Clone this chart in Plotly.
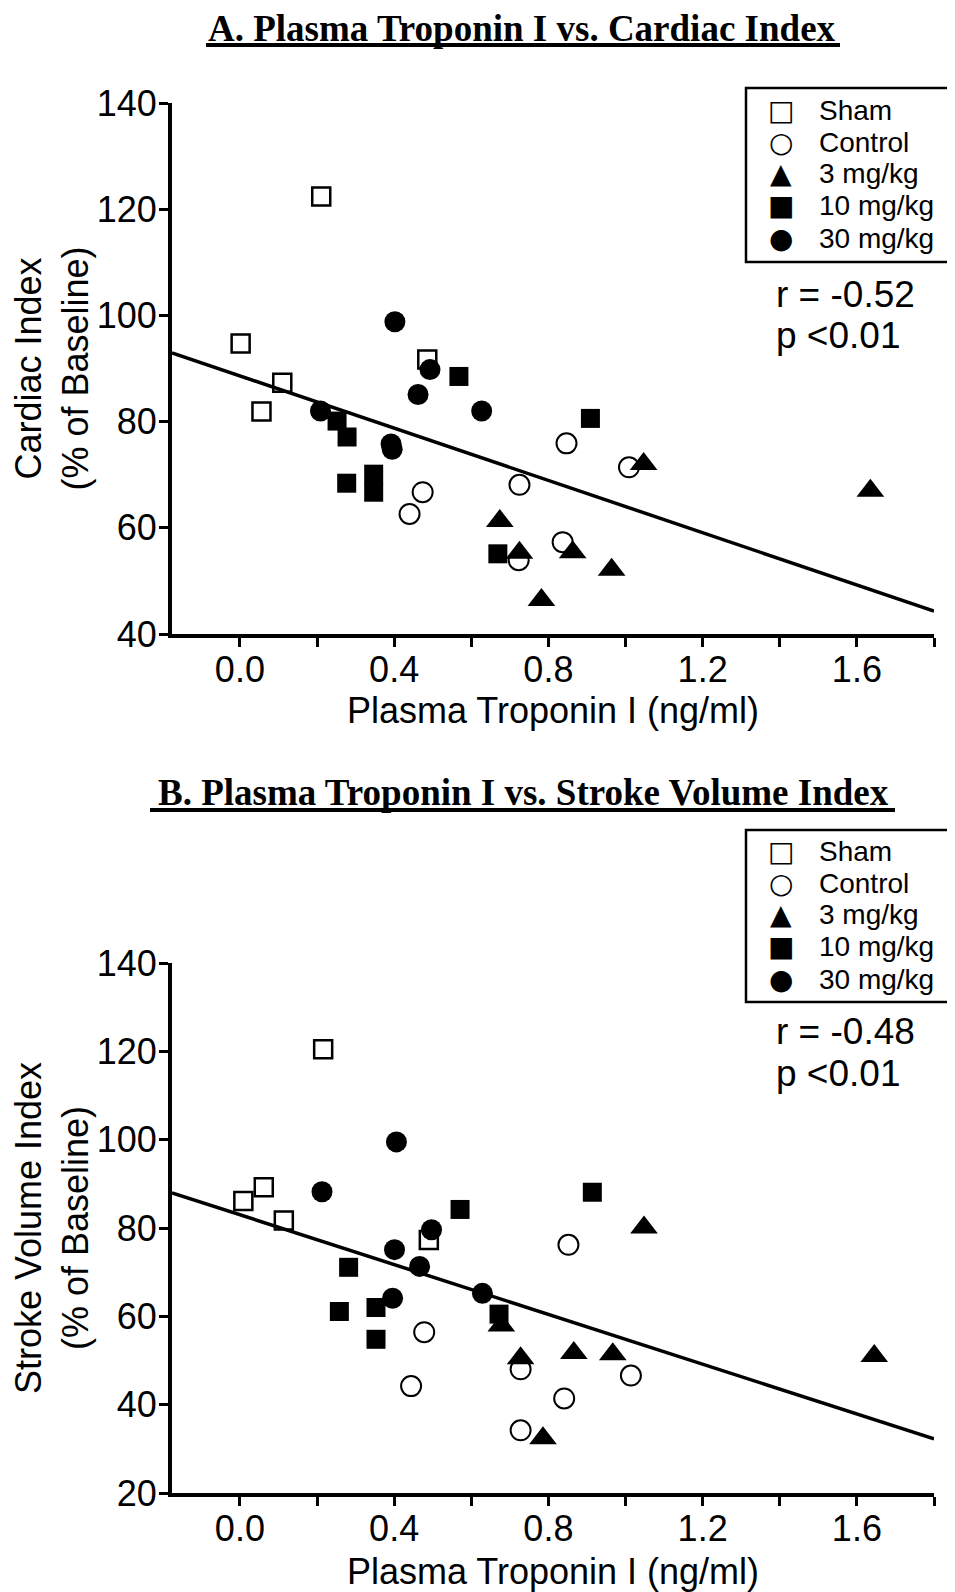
import plotly.graph_objects as go

# ---------------- Panel A: Plasma Troponin I vs. Cardiac Index ----------------
sham_a_x = [0.002, 0.056, 0.110, 0.211, 0.486]
sham_a_y = [94.7, 81.9, 87.3, 122.4, 91.7]
ctrl_a_x = [0.440, 0.474, 0.723, 0.725, 0.837, 0.847, 1.009]
ctrl_a_y = [62.6, 66.7, 53.9, 68.1, 57.3, 75.9, 71.4]
d3_a_x = [0.674, 0.725, 0.782, 0.863, 0.964, 1.047, 1.635]
d3_a_y = [61.3, 55.3, 46.4, 55.4, 52.1, 72.0, 67.0]
d10_a_x = [0.252, 0.277, 0.278, 0.347, 0.347, 0.568, 0.669, 0.909]
d10_a_y = [80.1, 68.4, 77.1, 70.1, 66.7, 88.5, 55.1, 80.6]
d30_a_x = [0.209, 0.392, 0.395, 0.402, 0.462, 0.493, 0.627]
d30_a_y = [82.0, 75.8, 74.8, 98.8, 85.1, 89.8, 82.0]
fit_a_intercept = 88.6
fit_a_slope = -24.6
stats_a = ["r = -0.52", "p <0.01"]

# ---------------- Panel B: Plasma Troponin I vs. Stroke Volume Index ----------------
sham_b_x = [0.009, 0.062, 0.114, 0.216, 0.490]
sham_b_y = [86.1, 89.2, 81.7, 120.5, 77.3]
ctrl_b_x = [0.444, 0.478, 0.728, 0.728, 0.841, 0.852, 1.014]
ctrl_b_y = [44.2, 56.4, 34.2, 48.0, 41.4, 76.2, 46.6]
d3_b_x = [0.678, 0.728, 0.786, 0.866, 0.967, 1.048, 1.645]
d3_b_y = [57.9, 50.5, 32.4, 51.7, 51.4, 80.1, 51.0]
d10_b_x = [0.258, 0.282, 0.353, 0.353, 0.571, 0.672, 0.914]
d10_b_y = [61.1, 71.1, 62.0, 54.8, 84.2, 60.5, 88.1]
d30_b_x = [0.213, 0.396, 0.401, 0.406, 0.466, 0.497, 0.629]
d30_b_y = [88.2, 64.1, 75.1, 99.5, 71.3, 79.6, 65.2]
fit_b_intercept = 83.0
fit_b_slope = -28.2
stats_b = ["r = -0.48", "p <0.01"]

group_names = ["Sham", "Control", "3 mg/kg", "10 mg/kg", "30 mg/kg"]
legend_glyphs = ["\u25A1", "\u25CB", "\u25B2", "\u25A0", "\u25CF"]
x_range = [-0.176, 1.8]
x_tickvals = [0.0, 0.2, 0.4, 0.6, 0.8, 1.0, 1.2, 1.4, 1.6, 1.8]
x_ticktext = ["0.0", "", "0.4", "", "0.8", "", "1.2", "", "1.6", ""]

W, H = 955, 1592
OFF = 8  # the page body adds an 8 px margin; positions below are screen pixels
SANS = "Liberation Sans, Arial, sans-serif"
SERIF = "Liberation Serif, Times New Roman, serif"

styles = [
    dict(symbol="square-open", size=18, color="black", line=dict(width=2.5, color="black")),
    dict(symbol="circle-open", size=20, color="black", line=dict(width=2, color="black")),
    dict(symbol="triangle-up", size=24, color="black"),
    dict(symbol="square", size=19, color="black"),
    dict(symbol="circle", size=21, color="black"),
]

fig = go.Figure()


def add_panel(xs, ys, intercept, slope, xaxis, yaxis):
    fx = list(x_range)
    fy = [intercept + slope * v for v in fx]
    fig.add_trace(go.Scatter(x=fx, y=fy, mode="lines", line=dict(color="black", width=3.5),
                             showlegend=False, hoverinfo="skip", xaxis=xaxis, yaxis=yaxis))
    for name, gx, gy, st in zip(group_names, xs, ys, styles):
        fig.add_trace(go.Scatter(x=gx, y=gy, mode="markers", name=name, marker=st,
                                 xaxis=xaxis, yaxis=yaxis, showlegend=False))


add_panel([sham_a_x, ctrl_a_x, d3_a_x, d10_a_x, d30_a_x],
          [sham_a_y, ctrl_a_y, d3_a_y, d10_a_y, d30_a_y],
          fit_a_intercept, fit_a_slope, "x", "y")
add_panel([sham_b_x, ctrl_b_x, d3_b_x, d10_b_x, d30_b_x],
          [sham_b_y, ctrl_b_y, d3_b_y, d10_b_y, d30_b_y],
          fit_b_intercept, fit_b_slope, "x2", "y2")

axis_style = dict(showline=True, linecolor="black", linewidth=4, ticks="outside", ticklen=9,
                  tickwidth=3, tickcolor="black", showgrid=False, zeroline=False, automargin=False,
                  tickfont=dict(size=36, family=SANS, color="black"))


def px_x(p):
    return (p - OFF) / W


def py(p):
    return 1 - (p - OFF) / H


x_dom = [px_x(172), px_x(934)]

fig.update_layout(
    width=W, height=H, margin=dict(l=0, r=0, t=0, b=0, pad=0),
    plot_bgcolor="white", paper_bgcolor="white", showlegend=False,
    font=dict(family=SANS, color="black", size=36),
    xaxis=dict(domain=x_dom, range=x_range, tickvals=x_tickvals, ticktext=x_ticktext, anchor="y",
               ticklabelstandoff=-8,
               title=dict(text="Plasma Troponin I (ng/ml)", font=dict(size=36), standoff=4), **axis_style),
    yaxis=dict(domain=[py(634), py(103)], range=[40, 140], dtick=20, tick0=40, anchor="x",
               ticklabelstandoff=-5,
               title=dict(text="Cardiac Index<br>(% of Baseline)", font=dict(size=36), standoff=6), **axis_style),
    xaxis2=dict(domain=x_dom, range=x_range, tickvals=x_tickvals, ticktext=x_ticktext, anchor="y2",
                ticklabelstandoff=-8,
                title=dict(text="Plasma Troponin I (ng/ml)", font=dict(size=36), standoff=12), **axis_style),
    yaxis2=dict(domain=[py(1493), py(963)], range=[20, 140], dtick=20, tick0=20, anchor="x2",
                ticklabelstandoff=-5,
                title=dict(text="Stroke Volume Index<br>(% of Baseline)", font=dict(size=36), standoff=6),
                **axis_style),
)

# titles with underline
titles = [("A. Plasma Troponin I vs. Cardiac Index", 522, 28, 206, 840, 45),
          ("B. Plasma Troponin I vs. Stroke Volume Index", 523, 792, 150, 895, 810)]
for text, cx, cy, ux0, ux1, uy in titles:
    fig.add_annotation(text="<b>" + text + "</b>", x=px_x(cx), y=py(cy), xref="paper", yref="paper",
                       showarrow=False, xanchor="center", yanchor="middle",
                       font=dict(family=SERIF, size=37, color="black"))
    fig.add_shape(type="line", xref="paper", yref="paper", x0=px_x(ux0), x1=px_x(ux1), y0=py(uy), y1=py(uy),
                  line=dict(color="black", width=4))

# boxed keys for each panel
legend_boxes = [(88, 262, [111, 142, 173, 205, 239]), (830, 1002, [851, 883, 914, 946, 979])]
for top, bottom, rows in legend_boxes:
    fig.add_shape(type="rect", xref="paper", yref="paper", x0=px_x(746), x1=px_x(953.5),
                  y0=py(bottom), y1=py(top), line=dict(color="black", width=2.5), fillcolor="rgba(0,0,0,0)")
    for glyph, name, ry in zip(legend_glyphs, group_names, rows):
        fig.add_annotation(text=glyph, x=px_x(781), y=py(ry), xref="paper", yref="paper", showarrow=False,
                           xanchor="center", yanchor="middle",
                           font=dict(family="DejaVu Sans", size=28, color="black"))
        fig.add_annotation(text=name, x=px_x(817), y=py(ry), xref="paper", yref="paper", showarrow=False,
                           xanchor="left", yanchor="middle", font=dict(family=SANS, size=28, color="black"))

for stats, ys in [(stats_a, (294, 335)), (stats_b, (1031, 1073))]:
    for t, yy in zip(stats, ys):
        fig.add_annotation(text=t, x=px_x(774), y=py(yy), xref="paper", yref="paper", showarrow=False,
                           xanchor="left", yanchor="middle", font=dict(family=SANS, size=37, color="black"))

fig.write_html("out.html")
